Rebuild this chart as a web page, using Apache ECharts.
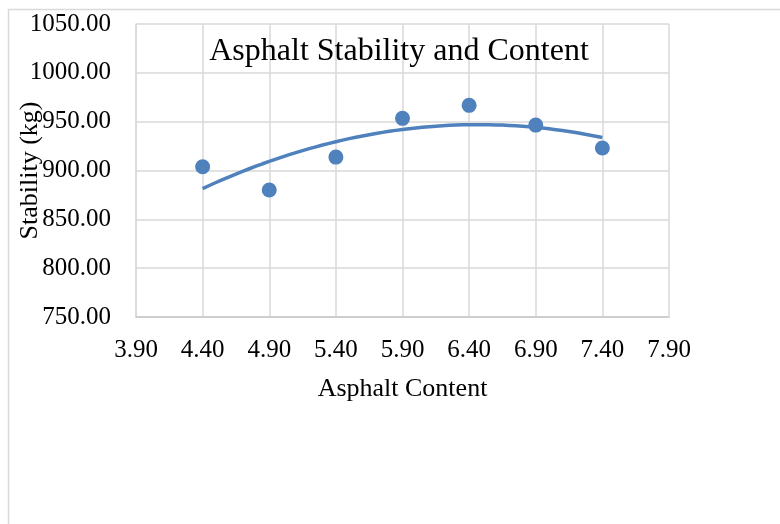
<!DOCTYPE html>
<html>
<head>
<meta charset="utf-8">
<script src="https://cdn.jsdelivr.net/npm/echarts@6/dist/echarts.min.js"></script>
<style>
  html, body { margin: 0; padding: 0; background: #fff; }
  #chart { width: 780px; height: 524px; }
</style>
</head>
<body>
<div id="chart"></div>
<script>
// Asphalt content (%) and measured Marshall stability (kg)
const asphaltContent = [4.4, 4.9, 5.4, 5.9, 6.4, 6.9, 7.4];
const stability = [903.8, 880.0, 913.7, 953.4, 966.7, 946.5, 923.0];

// Axis ranges
const xRange = { min: 3.9, max: 7.9, step: 0.5 };
const yRange = { min: 750, max: 1050, step: 50 };

const FONT = "'Liberation Serif', 'Times New Roman', serif";
const BLUE = '#4f81bd';
const GRID = '#d9d9d9';

// Second-order polynomial trendline (least squares), like a spreadsheet trendline
function quadFit(xs, ys) {
  let s = [0, 0, 0, 0, 0], t = [0, 0, 0];
  for (let i = 0; i < xs.length; i++) {
    const x = xs[i], y = ys[i];
    for (let k = 0; k < 5; k++) s[k] += Math.pow(x, k);
    for (let k = 0; k < 3; k++) t[k] += y * Math.pow(x, k);
  }
  const A = [[s[0], s[1], s[2], t[0]], [s[1], s[2], s[3], t[1]], [s[2], s[3], s[4], t[2]]];
  for (let c = 0; c < 3; c++) {
    for (let r = c + 1; r < 3; r++) {
      const f = A[r][c] / A[c][c];
      for (let k = c; k < 4; k++) A[r][k] -= f * A[c][k];
    }
  }
  const coef = [0, 0, 0];
  for (let r = 2; r >= 0; r--) {
    let v = A[r][3];
    for (let k = r + 1; k < 3; k++) v -= A[r][k] * coef[k];
    coef[r] = v / A[r][r];
  }
  return x => coef[0] + coef[1] * x + coef[2] * x * x;
}

const trend = quadFit(asphaltContent, stability);
const x0 = asphaltContent[0], x1 = asphaltContent[asphaltContent.length - 1];
const trendPoints = [];
for (let i = 0; i <= 60; i++) {
  const x = x0 + (x1 - x0) * i / 60;
  trendPoints.push([x, trend(x)]);
}

const chart = echarts.init(document.getElementById('chart'), null, { renderer: 'canvas' });
chart.setOption({
  backgroundColor: '#fff',
  animation: false,
  title: {
    text: 'Asphalt Stability and Content',
    left: 394,
    top: 31,
    textAlign: 'center',
    textStyle: { fontFamily: FONT, fontSize: 32, fontWeight: 'normal', color: '#000' }
  },
  graphic: [{
    type: 'rect',
    shape: { x: 8.5, y: 9.5, width: 900, height: 700 },
    style: { fill: 'none', stroke: GRID, lineWidth: 1.5 },
    silent: true,
    z: -1
  }],
  grid: { left: 136, right: 111, top: 24, bottom: 207, containLabel: false, outerBoundsMode: 'none' },
  xAxis: {
    type: 'value',
    min: xRange.min,
    max: xRange.max,
    interval: xRange.step,
    name: 'Asphalt Content',
    nameLocation: 'middle',
    nameGap: 59,
    nameMoveOverlap: false,
    nameTextStyle: { fontFamily: FONT, fontSize: 26, color: '#000' },
    axisLine: { show: true, lineStyle: { color: '#c8c8c8', width: 1.5 } },
    axisTick: { show: false },
    splitLine: { show: true, lineStyle: { color: GRID, width: 1.5 } },
    axisLabel: {
      fontFamily: FONT, fontSize: 25, color: '#000', margin: 21,
      formatter: v => v.toFixed(2)
    }
  },
  yAxis: {
    type: 'value',
    min: yRange.min,
    max: yRange.max,
    interval: yRange.step,
    name: 'Stability (kg)',
    nameLocation: 'middle',
    nameGap: 93,
    nameMoveOverlap: false,
    nameTextStyle: { fontFamily: FONT, fontSize: 26, color: '#000' },
    axisLine: { show: true, lineStyle: { color: GRID, width: 1.5 } },
    axisTick: { show: false },
    splitLine: { show: true, lineStyle: { color: GRID, width: 1.5 } },
    axisLabel: {
      fontFamily: FONT, fontSize: 25, color: '#000', margin: 25,
      formatter: v => v.toFixed(2)
    }
  },
  series: [
    {
      name: 'Trendline',
      type: 'line',
      data: trendPoints,
      showSymbol: false,
      smooth: false,
      lineStyle: { color: BLUE, width: 3.5 },
      z: 2
    },
    {
      name: 'Stability',
      type: 'scatter',
      data: asphaltContent.map((x, i) => [x, stability[i]]),
      symbol: 'circle',
      symbolSize: 15,
      itemStyle: { color: BLUE, opacity: 1 },
      z: 3
    }
  ]
});
</script>
</body>
</html>
